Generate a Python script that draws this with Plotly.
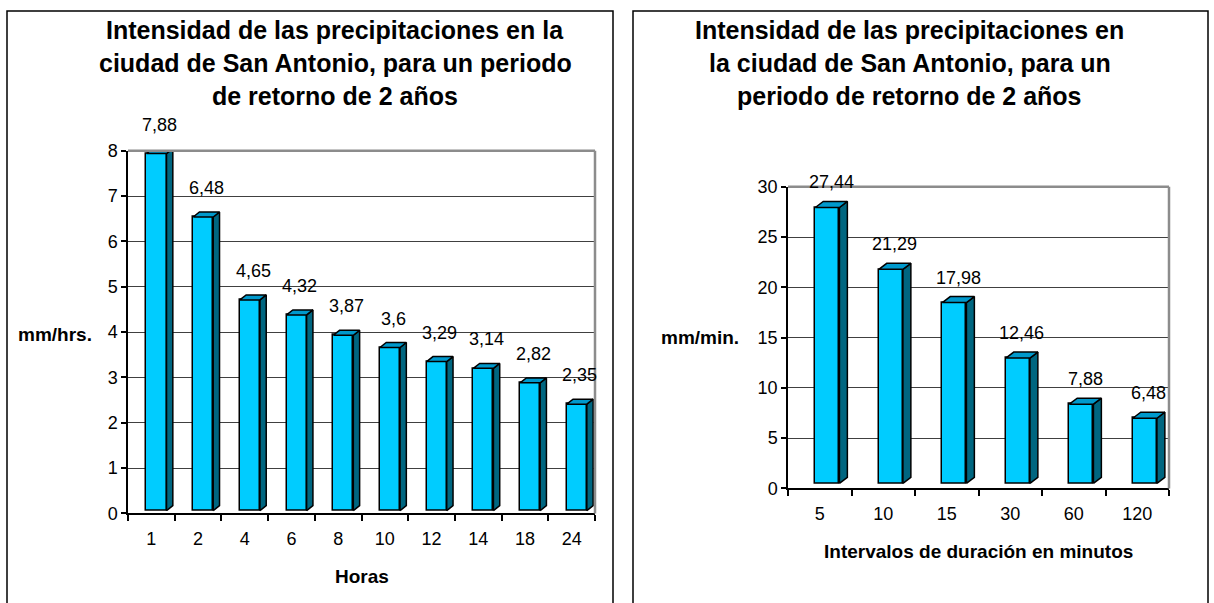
import plotly.graph_objects as go

# ---------------- data ----------------
left_cats = ["1", "2", "4", "6", "8", "10", "12", "14", "18", "24"]
left_vals = [7.88, 6.48, 4.65, 4.32, 3.87, 3.6, 3.29, 3.14, 2.82, 2.35]
left_yticks = [0, 1, 2, 3, 4, 5, 6, 7, 8]

right_cats = ["5", "10", "15", "30", "60", "120"]
right_vals = [27.44, 21.29, 17.98, 12.46, 7.88, 6.48]
right_yticks = [0, 5, 10, 15, 20, 25, 30]

left_title = ["Intensidad de las precipitaciones en la",
              "ciudad de San Antonio, para un periodo",
              "de retorno de 2 años"]
right_title = ["Intensidad de las precipitaciones en",
               "la ciudad de San Antonio, para un",
               "periodo de retorno de 2 años"]
left_ylabel = "mm/hrs."
left_xlabel = "Horas"
right_ylabel = "mm/min."
right_xlabel = "Intervalos de duración en minutos"

# ---------------- style ----------------
W, H = 1214, 603
FONT = "Liberation Sans, Arial, sans-serif"
FRONT = "#00CCFF"
TOP = "#0099CC"
SIDE = "#006680"
EDGE = "black"
# vertical placement correction (observed page -> picture mapping)
Y0, YS = 10.0, 0.968


def px(x):
    return x / W


def py(y):
    page = (y - Y0) / YS
    return 1 - page / H


def fmt(v):
    return ("%g" % v).replace(".", ",")


fig = go.Figure()


def add_3d_bars(vals, xa, ya, shift, width, dx, dy, base, label_yshift):
    n = len(vals)
    idx = list(range(n))
    fig.add_trace(go.Bar(
        x=idx, y=vals, base=base, width=width, offset=shift - width / 2,
        marker=dict(color=FRONT, line=dict(color=EDGE, width=1.5)),
        xaxis=xa, yaxis=ya, showlegend=False, hoverinfo="skip"))
    for i, v in enumerate(vals):
        xl = i + shift - width / 2
        xr = xl + width
        b = base
        t = v + base
        # side face
        fig.add_trace(go.Scatter(
            x=[xr, xr + dx, xr + dx, xr, xr], y=[b, b + dy, t + dy, t, b],
            mode="lines", fill="toself", fillcolor=SIDE,
            line=dict(color=EDGE, width=1.5), xaxis=xa, yaxis=ya,
            showlegend=False, hoverinfo="skip"))
        # top face
        fig.add_trace(go.Scatter(
            x=[xl, xl + dx, xr + dx, xr, xl], y=[t, t + dy, t + dy, t, t],
            mode="lines", fill="toself", fillcolor=TOP,
            line=dict(color=EDGE, width=1.5), xaxis=xa, yaxis=ya,
            showlegend=False, hoverinfo="skip"))
        fig.add_annotation(
            x=i + shift + dx / 2, y=t, xref=xa, yref=ya, text=fmt(v),
            showarrow=False, yshift=label_yshift, xanchor="center",
            yanchor="middle", font=dict(size=18, color="black", family=FONT))


add_3d_bars(left_vals, "x", "y", shift=0.11, width=0.43, dx=0.135, dy=0.11,
            base=0.06, label_yshift=29)
add_3d_bars(right_vals, "x2", "y2", shift=0.12, width=0.38, dx=0.125, dy=0.6,
            base=0.5, label_yshift=25)


def xaxis_cfg(dom, cats):
    n = len(cats)
    return dict(
        domain=dom, range=[-0.5, n - 0.5], tickmode="array",
        tickvals=list(range(n)), ticktext=cats, ticks="",
        ticklabelstandoff=8,
        showline=True, linecolor="black", linewidth=1.5,
        showgrid=False, zeroline=False, fixedrange=True,
        tickfont=dict(size=18, color="black", family=FONT),
        minor=dict(tickmode="array", tickvals=[i - 0.5 for i in range(n + 1)],
                   ticks="outside", ticklen=6, tickcolor="black",
                   tickwidth=1.5, showgrid=False))


def yaxis_cfg(dom, ticks):
    return dict(
        domain=dom, range=[ticks[0], ticks[-1]], tickmode="array",
        tickvals=ticks, ticks="outside", ticklen=5, tickcolor="black",
        tickwidth=1.5, showline=True, linecolor="black", linewidth=1.5,
        showgrid=True, gridcolor="#404040", gridwidth=1, zeroline=False,
        fixedrange=True, tickfont=dict(size=18, color="black", family=FONT))


fig.update_layout(
    width=W, height=H, margin=dict(l=0, r=0, t=0, b=0),
    paper_bgcolor="white", plot_bgcolor="white", showlegend=False,
    font=dict(family=FONT, color="black"), bargap=0,
    xaxis=dict(anchor="y", **xaxis_cfg([px(128), px(595)], left_cats)),
    yaxis=dict(anchor="x", **yaxis_cfg([py(514), py(151)], left_yticks)),
    xaxis2=dict(anchor="y2", **xaxis_cfg([px(788), px(1169)], right_cats)),
    yaxis2=dict(anchor="x2", **yaxis_cfg([py(489), py(187)], right_yticks)),
)

# back wall top/right border (gray)
for xa, ya in (("x", "y"), ("x2", "y2")):
    fig.add_shape(type="line", xref=xa + " domain", yref=ya + " domain",
                  x0=0, x1=1, y0=1, y1=1, line=dict(color="#8C8C8C", width=2.5))
    fig.add_shape(type="line", xref=xa + " domain", yref=ya + " domain",
                  x0=1, x1=1, y0=0, y1=1, line=dict(color="#8C8C8C", width=2.5))

# outer chart boxes
box_top = 1 - 1.0 / H
fig.add_shape(type="rect", xref="paper", yref="paper", x0=px(7), x1=px(613),
              y0=-0.2, y1=box_top, line=dict(color="black", width=1.5))
fig.add_shape(type="rect", xref="paper", yref="paper", x0=px(633), x1=px(1208),
              y0=-0.2, y1=box_top, line=dict(color="black", width=1.5))

# titles, one line at a time
bold = dict(family=FONT, size=25, color="black")
title_rows = [30, 63, 96]
for lines, cx in ((left_title, 335), (right_title, 910)):
    for line, ry in zip(lines, title_rows):
        fig.add_annotation(xref="paper", yref="paper", x=px(cx), y=py(ry),
                           text="<b>" + line + "</b>", showarrow=False,
                           xanchor="center", yanchor="middle", font=bold)

ax_font = dict(family=FONT, size=19, color="black")
fig.add_annotation(xref="paper", yref="paper", x=px(55), y=py(335),
                   text="<b>" + left_ylabel + "</b>", showarrow=False,
                   xanchor="center", yanchor="middle", font=ax_font)
fig.add_annotation(xref="paper", yref="paper", x=px(362), y=py(577),
                   text="<b>" + left_xlabel + "</b>", showarrow=False,
                   xanchor="center", yanchor="middle", font=ax_font)
fig.add_annotation(xref="paper", yref="paper", x=px(700), y=py(338),
                   text="<b>" + right_ylabel + "</b>", showarrow=False,
                   xanchor="center", yanchor="middle", font=ax_font)
fig.add_annotation(xref="paper", yref="paper", x=px(978), y=py(552),
                   text="<b>" + right_xlabel + "</b>", showarrow=False,
                   xanchor="center", yanchor="middle", font=ax_font)

page_fix = (
    "var gd=document.getElementById('{plot_id}');"
    "var s=[document.documentElement, document.body, gd.parentNode];"
    "for(var i=0;i<s.length;i++){s[i].style.margin='0';s[i].style.padding='0';"
    "s[i].style.height='603px';s[i].style.overflow='hidden';}"
)
fig.write_html("out.html", config={"displayModeBar": False},
               post_script=page_fix)
